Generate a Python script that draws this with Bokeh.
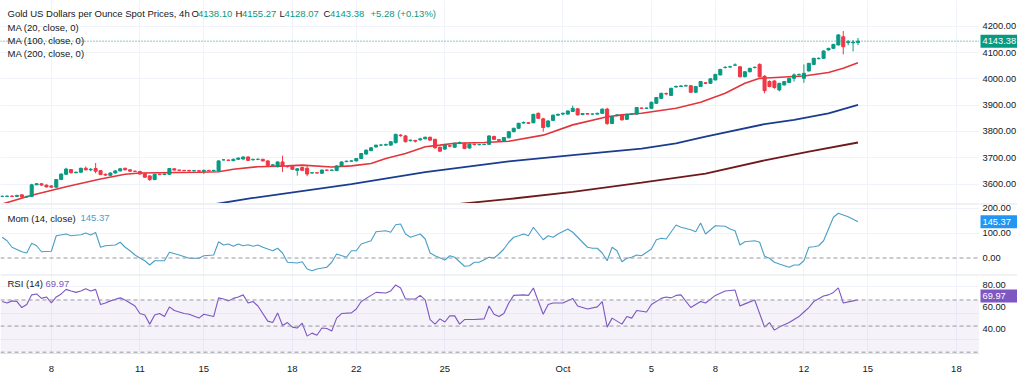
from bokeh.plotting import figure
from bokeh.layouts import column, row
from bokeh.models import (Range1d, ColumnDataSource, Label, Span, BoxAnnotation,
                          FixedTicker)
from bokeh.core.properties import value
from bokeh.embed import file_html
from bokeh.resources import INLINE

# ---------------- data (4h bars, index = bar number) ----------------
opens = [3553,3553,3554,3553,3559,3551,3553,3597,3601,3596,
         3593,3588,3617,3637,3655,3643,3645,3660,3654,3659,
         3651,3637,3633,3642,3650,3660,3654,3649,3648,3640,
         3631,3617,3637,3636,3637,3658,3653,3652,3652,3650,
         3651,3649,3652,3651,3650,3692,3691,3689,3694,3695,
         3703,3692,3694,3694,3688,3671,3666,3684,3668,3667,
         3652,3663,3660,3642,3643,3641,3653,3652,3651,3669,
         3685,3687,3688,3697,3714,3727,3741,3748,3748,3748,
         3757,3786,3783,3765,3766,3768,3772,3778,3770,3740,
         3733,3746,3740,3755,3755,3737,3751,3750,3750,3751,
         3781,3769,3762,3776,3799,3812,3832,3833,3833,3869,
         3848,3818,3842,3862,3866,3866,3876,3886,3864,3868,
         3866,3866,3869,3885,3830,3860,3863,3846,3866,3866,
         3889,3888,3888,3907,3926,3944,3937,3969,3971,3973,
         3974,3949,3971,3985,3983,3996,4015,4043,4045,4052,
         4046,4008,4027,4043,4055,4010,3990,3992,3958,3977,
         3986,4002,4016,4002,4030,4055,4077,4078,4110,4116,
         4129,4160,4138,4137,4138.10]
highs = [3556,3556,3557,3558,3561,3555,3601,3604,3603,3598,
         3595,3619,3640,3662,3657,3647,3662,3667,3661,3680,
         3653,3640,3644,3652,3660,3662,3656,3651,3650,3642,
         3633,3639,3639,3640,3661,3660,3655,3654,3653,3652,
         3652,3655,3654,3654,3690,3694,3693,3697,3701,3705,
         3705,3696,3697,3696,3690,3675,3686,3708,3671,3670,
         3660,3666,3668,3645,3645,3655,3655,3655,3671,3686,
         3689,3690,3698,3718,3731,3740,3749,3752,3754,3763,
         3791,3790,3786,3769,3768,3776,3780,3780,3772,3742,
         3750,3748,3757,3762,3757,3754,3754,3753,3753,3785,
         3784,3771,3779,3801,3814,3833,3838,3835,3867,3872,
         3852,3842,3864,3868,3872,3880,3898,3888,3870,3870,
         3869,3871,3887,3890,3858,3866,3865,3867,3868,3893,
         3891,3891,3913,3931,3947,3948,3966,3975,3976,3978,
         3976,3973,3992,3988,4002,4019,4038,4048,4050,4059,
         4048,4029,4042,4047,4059,4014,3994,3995,3985,3992,
         4004,4021,4020,4055,4061,4080,4082,4108,4118,4133,
         4170,4182,4148,4148,4155.27]
lows = [3550,3550,3551,3551,3548,3548,3551,3596,3593,3587,
        3586,3586,3615,3635,3640,3641,3643,3652,3649,3641,
        3634,3631,3631,3640,3648,3652,3647,3646,3636,3624,
        3612,3615,3634,3634,3635,3651,3650,3649,3648,3648,
        3647,3638,3649,3649,3648,3690,3688,3687,3692,3693,
        3688,3690,3691,3686,3668,3668,3663,3646,3663,3654,
        3632,3650,3630,3640,3640,3639,3650,3650,3649,3667,
        3684,3686,3686,3695,3712,3725,3739,3744,3746,3746,
        3755,3780,3758,3762,3758,3765,3770,3765,3734,3722,
        3730,3740,3738,3752,3733,3735,3747,3747,3748,3749,
        3768,3764,3760,3774,3797,3810,3830,3828,3831,3848,
        3799,3815,3840,3860,3862,3864,3874,3860,3862,3864,
        3864,3864,3867,3825,3828,3858,3842,3844,3863,3864,
        3886,3886,3886,3905,3924,3938,3935,3967,3969,3971,
        3947,3947,3969,3980,3981,3994,4013,4040,4042,4049,
        4006,4006,4025,4040,4006,3945,3968,3962,3952,3975,
        3984,3990,4013,3985,4028,4053,4074,4076,4108,4114,
        4127,4093,4128,4104,4128.07]
closes = [3553,3554,3553,3557,3551,3553,3597,3601,3596,3589,
          3588,3617,3638,3657,3643,3645,3660,3654,3656,3649,
          3636,3634,3642,3650,3658,3654,3649,3648,3638,3626,
          3617,3637,3636,3638,3659,3653,3652,3651,3650,3651,
          3649,3652,3651,3652,3688,3692,3690,3694,3699,3703,
          3690,3694,3694,3688,3671,3673,3684,3668,3666,3656,
          3658,3652,3638,3643,3642,3653,3652,3653,3669,3684,
          3687,3688,3697,3716,3729,3738,3748,3748,3750,3761,
          3789,3784,3761,3767,3763,3772,3778,3767,3738,3725,
          3748,3744,3755,3758,3735,3752,3750,3750,3751,3783,
          3770,3766,3777,3799,3812,3831,3834,3831,3865,3850,
          3815,3840,3862,3865,3869,3878,3888,3863,3868,3866,
          3866,3869,3885,3830,3856,3863,3844,3865,3866,3891,
          3888,3889,3911,3929,3945,3943,3964,3971,3973,3974,
          3949,3971,3990,3983,4000,4017,4036,4044,4046,4053,
          4008,4027,4040,4044,4008,3955,3971,3967,3983,3990,
          4002,4015,4017,4021,4059,4078,4078,4106,4116,4131,
          4167,4122,4141,4140,4143.38]

ma20_i = [0, 6, 13, 20, 25, 28, 40, 44, 47, 52, 58, 61, 67, 71, 75, 78, 82, 85, 86, 89,
          92, 98, 103, 110, 116, 123, 126, 130, 137, 142, 147, 151, 154, 160, 163, 168, 171, 174]
ma20_v = [3524, 3557, 3590, 3619, 3637, 3642, 3645, 3647, 3656, 3666, 3669, 3672, 3665, 3669,
          3678, 3697, 3716, 3735, 3742, 3748, 3755, 3758, 3763, 3786, 3825, 3856, 3863, 3869,
          3888, 3911, 3945, 3983, 4002, 4008, 4011, 4024, 4040, 4061]
ma100_i = [42, 51, 71, 86, 103, 116, 130, 137, 143, 155, 161, 168, 174]
ma100_v = [3520, 3547, 3600, 3645, 3686, 3710, 3735, 3755, 3780, 3828, 3844, 3869, 3901]
ma200_i = [90, 104, 116, 130, 143, 155, 164, 174]
ma200_v = [3519, 3545, 3570, 3605, 3640, 3690, 3723, 3758]

mom_i = [0, 1, 2, 4, 5, 6, 7, 8, 10, 11, 13, 14, 16, 17, 18, 19, 20, 21, 23, 24, 25, 26, 27,
         28, 29, 30, 31, 33, 34, 36, 38, 40, 41, 43, 44, 45, 46, 47, 48, 49, 50, 51, 52,
         53, 55, 56, 57, 58, 60, 61, 62, 63, 64, 66, 67, 68, 70, 71, 72, 73, 75, 76, 78, 79,
         80, 81, 82, 83, 85, 86, 87, 88, 90, 91, 92, 94, 95, 96, 97, 99, 100, 101, 102, 103,
         104, 105, 106, 107, 108, 110, 111, 112, 113, 115, 116, 119, 120, 121, 122, 123, 124,
         125, 126, 127, 128, 129, 130, 132, 133, 134, 135, 137, 138, 140, 141, 142, 143, 145,
         147, 148, 149, 150, 151, 153, 154, 155, 156, 157, 158, 160, 161, 162, 163, 164, 165,
         166, 167, 168, 169, 170, 171, 172, 174]
mom_v = [83, 69, 43, 25, 20, 59, 49, 25, 27, 89, 96, 89, 93, 100, 92, 102, 43, 49, 52, 63, 43, 29, 12,
         0, -11, -28, -11, -11, 23, 12, -1, -1, 9, 12, 65, 52, 56, 47, 56, 49, 53, 47, 52,
         43, 29, 39, 20, -17, -20, -15, -44, -51, -44, -37, -17, 16, 3, 29, 29, 56, 69, 105, 109, 103,
         133, 136, 96, 83, 96, 76, 20, 9, -8, 9, 3, -33, -31, -17, -17, 3, 0, 16, 36, 63,
         83, 89, 96, 89, 123, 73, 89, 83, 96, 116, 103, 43, 39, 39, 20, -11, 43,
         29, -15, -1, 3, 12, 9, 36, 73, 79, 76, 132, 123, 113, 105, 140, 96, 129,
         127, 116, 109, 52, 65, 69, 63, 7, -1, -17, -24, -37, -28, -28, -11, 43, 45,
         49, 69, 116, 163, 179, 172, 165, 145.37]

rsi_i = [0, 1, 2, 3, 4, 5, 6, 7, 8, 9, 10, 11, 12, 13, 14, 15, 16, 17, 18, 19, 20, 21, 22, 24,
         25, 26, 27, 28, 29, 30, 31, 32, 33, 34, 35, 37, 38, 40, 41, 43, 44, 45, 46, 47, 48,
         49, 50, 51, 52, 54, 55, 56, 57, 58, 59, 60, 61, 62, 63, 64, 65, 66, 67, 68, 69, 71,
         72, 73, 75, 76, 78, 79, 80, 81, 82, 84, 85, 86, 87, 88, 89, 90, 91, 92, 93, 94, 96,
         98, 99, 100, 101, 102, 103, 104, 106, 107, 108, 110, 111, 112, 114, 116, 117, 119,
         121, 122, 123, 124, 126, 127, 128, 129, 131, 132, 134, 135, 136, 137, 138, 140, 142,
         143, 145, 147, 149, 150, 151, 153, 155, 156, 157, 158, 160, 162, 163, 164, 165, 167,
         168, 169, 170, 171, 173, 174]
rsi_v = [68.8, 67.7, 69.3, 68.8, 64.2, 66.5, 73.9, 74.6, 71.2, 72.3, 67.7, 72.3, 74.6, 78.1,
         76.9, 75.8, 76.9, 78.5, 76.9, 78.1, 66.5, 67.7, 69.3, 71.6, 70.0, 67.7, 65.4, 59.6,
         58.5, 51.5, 58.5, 59.6, 57.3, 64.7, 61.9, 59.6, 59.1, 56.1, 59.1, 57.3, 71.6, 70.7,
         69.3, 71.2, 72.3, 73.9, 67.7, 68.8, 65.4, 53.8, 52.7, 60.1, 50.4, 52.7, 49.2, 48.5,
         52.2, 42.3, 44.6, 43.0, 48.5, 48.1, 46.2, 56.1, 59.6, 60.1, 63.1, 68.8, 73.5, 75.8,
         75.3, 76.9, 81.5, 79.2, 70.7, 70.7, 73.5, 70.0, 55.0, 51.5, 55.5, 53.1, 57.8, 57.8,
         51.5, 55.0, 55.0, 55.5, 65.4, 59.1, 57.3, 59.6, 67.7, 73.5, 73.9, 73.5, 79.2, 59.1,
         66.5, 67.7, 67.7, 71.2, 65.4, 63.1, 64.7, 68.8, 49.2, 56.1, 51.5, 57.3, 56.1, 61.9,
         60.8, 66.5, 71.2, 72.3, 71.6, 73.5, 73.9, 64.2, 68.8, 67.7, 73.5, 76.9, 77.6, 65.4,
         67.0, 70.0, 49.2, 52.7, 46.9, 49.2, 52.7, 57.3, 60.8, 64.2, 68.8, 73.0, 73.9, 75.8,
         79.2, 67.7, 69.3, 69.97]

x_tick_pos = [10, 28, 41, 59, 72, 90, 114, 132, 145, 163, 176, 194]
x_tick_labels = ["8", "11", "15", "18", "22", "25", "Oct", "5", "8", "12", "15", "18"]
price_ticks = [3600, 3700, 3800, 3900, 4000, 4100, 4200]
mom_ticks = [0, 100, 200]
rsi_ticks = [40, 60, 80]
rsi_bands = [70, 50, 30]

# ---------------- style / layout ----------------
FONT = "Liberation Sans"
FS = "9.5px"
AFS = "9.3px"
TXT = "#131722"
GRID = "#f0f3fa"
SEP = "#e0e3eb"
UP, DN = "#089981", "#f23645"
MOM_C = "#4a9fc6"
RSI_C = "#7e57c2"
FW, SW = 979, 38                      # chart frame width, price-scale width
H_MAIN, H_MOM, H_RSI, H_AX = 203, 71, 86, 16

xr = Range1d(-0.34, 198.7)
yr_main = Range1d(3526, 4298)
yr_mom = Range1d(-66, 218)
yr_rsi = Range1d(29.0, 89.5)
rsi_px = (yr_rsi.end - yr_rsi.start) / H_RSI
yr_rsi_side = Range1d(yr_rsi.start - H_AX * rsi_px, yr_rsi.end)


def make_fig(height, yr, gridticks, bottom=0):
    p = figure(width=FW, height=height + bottom, x_range=xr, y_range=yr, output_backend="svg",
               toolbar_location=None, y_axis_location="right",
               min_border_left=0, min_border_top=0, min_border_bottom=bottom,
               min_border_right=0)
    p.outline_line_color = None
    p.background_fill_color = "white"
    p.border_fill_color = "white"
    p.yaxis.visible = False
    p.xaxis.ticker = FixedTicker(ticks=x_tick_pos)
    p.xgrid.ticker = FixedTicker(ticks=x_tick_pos)
    p.xgrid.grid_line_color = GRID
    p.ygrid.ticker = FixedTicker(ticks=gridticks)
    p.ygrid.grid_line_color = GRID
    return p


def side_fig(height, yr, ticks, last, bg, sep=False):
    s = figure(width=SW, height=height, x_range=Range1d(0, SW), y_range=yr,
               output_backend="svg", toolbar_location=None,
               x_axis_location=None, y_axis_location=None, min_border=0)
    s.outline_line_color = None
    s.background_fill_color = "white"
    s.border_fill_color = "white"
    s.grid.visible = False
    if sep:
        s.add_layout(Span(location=yr.end, dimension="width", line_color=SEP, line_width=2))
    s.text(x=[3] * len(ticks), y=ticks, text=[f"{t:.2f}" for t in ticks],
           text_font=value(FONT), text_font_size=value(AFS), text_color=TXT,
           text_baseline="middle", text_align="left")
    s.rect(x=[SW / 2 + 0.5], y=[last], width=SW - 1, height=13, height_units="screen",
           fill_color=bg, line_color=None)
    s.text(x=[3], y=[last], text=[f"{last:.2f}"], text_font=value(FONT),
           text_font_size=value(AFS), text_color="white", text_baseline="middle",
           text_align="left")
    return s


def legend_text(p, x, y_from_top, text, height, color=TXT):
    p.add_layout(Label(x=x, y=height - y_from_top, x_units="screen", y_units="screen",
                       text=text, text_font=FONT, text_font_size=FS, text_color=color,
                       text_baseline="middle"))


# ---------------- main price pane ----------------
main = make_fig(H_MAIN, yr_main, price_ticks)
main.xaxis.visible = False

idx = list(range(len(closes)))
tops = [max(o, c) for o, c in zip(opens, closes)]
bots = [min(o, c) for o, c in zip(opens, closes)]
cols = [UP if c >= o else DN for o, c in zip(opens, closes)]
src = ColumnDataSource(dict(x=idx, h=highs, l=lows, top=tops, bot=bots, col=cols))

main.line(ma200_i, ma200_v, line_color="#6e1a1c", line_width=1.8)
main.line(ma100_i, ma100_v, line_color="#1b3d8f", line_width=1.8)
main.line(ma20_i, ma20_v, line_color="#e2353c", line_width=1.6)
main.segment(x0="x", y0="l", x1="x", y1="h", line_color="col", source=src, line_width=1)
main.vbar(x="x", width=0.62, top="top", bottom="bot", fill_color="col", line_color="col",
          source=src)
main.add_layout(Span(location=closes[-1], dimension="width", line_color=UP,
                     line_dash="1 2", line_width=1))

ch = closes[-1] - opens[-1]
legend_text(main, 7, 13, "Gold US Dollars per Ounce Spot Prices, 4h", H_MAIN)
hx = [191, 235, 279, 323]
hw = [6.5, 6.5, 5.0, 6.5]
for k, (lab, v) in enumerate(zip(["O", "H", "L", "C"],
                                 [opens[-1], highs[-1], lows[-1], closes[-1]])):
    legend_text(main, hx[k], 13, lab, H_MAIN)
    legend_text(main, hx[k] + hw[k], 13, f"{v:.2f}", H_MAIN, UP)
legend_text(main, 370, 13, f"+{ch:.2f} (+{ch / opens[-1] * 100:.2f}%)", H_MAIN, UP)
legend_text(main, 7, 26.5, "MA (20, close, 0)", H_MAIN)
legend_text(main, 7, 40, "MA (100, close, 0)", H_MAIN)
legend_text(main, 7, 53, "MA (200, close, 0)", H_MAIN)

main_side = side_fig(H_MAIN, yr_main, price_ticks, closes[-1], UP)

# ---------------- momentum pane ----------------
mom = make_fig(H_MOM, yr_mom, [100, 200])
mom.xaxis.visible = False
mom.add_layout(Span(location=yr_mom.end, dimension="width", line_color=SEP, line_width=2))
mom.add_layout(Span(location=0, dimension="width", line_color="#9598a1", line_dash="4 3",
                    line_width=1))
mom.line(mom_i, mom_v, line_color=MOM_C, line_width=1.1)
legend_text(mom, 7, 14.5, "Mom (14, close)", H_MOM)
legend_text(mom, 80, 14.5, f"{mom_v[-1]:.2f}", H_MOM, MOM_C)

mom_side = side_fig(H_MOM, yr_mom, mom_ticks, mom_v[-1], "#2196f3", sep=True)

# ---------------- RSI pane ----------------
rsi = make_fig(H_RSI, yr_rsi, rsi_ticks, bottom=H_AX)
rsi.add_layout(BoxAnnotation(bottom=30, top=70, fill_color=RSI_C, fill_alpha=0.08,
                             line_color=None))
rsi.add_layout(Span(location=yr_rsi.end, dimension="width", line_color=SEP, line_width=2))
for b in rsi_bands:
    rsi.add_layout(Span(location=b, dimension="width", line_color="#9598a1",
                        line_dash="4 3", line_width=1))
rsi.line(rsi_i, rsi_v, line_color=RSI_C, line_width=1.1)
legend_text(rsi, 7, 16, "RSI (14)", H_RSI)
legend_text(rsi, 45, 16, f"{rsi_v[-1]:.2f}", H_RSI, RSI_C)

xa = rsi.xaxis[0]
xa.major_label_overrides = {p: t for p, t in zip(x_tick_pos, x_tick_labels)}
xa.axis_line_color = SEP
xa.major_tick_line_color = None
xa.minor_tick_line_color = None
xa.major_label_text_font = FONT
xa.major_label_text_font_size = FS
xa.major_label_text_color = TXT
xa.major_label_standoff = 3

rsi_side = side_fig(H_RSI + H_AX, yr_rsi_side, rsi_ticks, rsi_v[-1], RSI_C, sep=True)

layout = column(row(main, main_side, spacing=0),
                row(mom, mom_side, spacing=0),
                row(rsi, rsi_side, spacing=0), spacing=0)
open("out.html", "w").write(file_html(layout, INLINE))
